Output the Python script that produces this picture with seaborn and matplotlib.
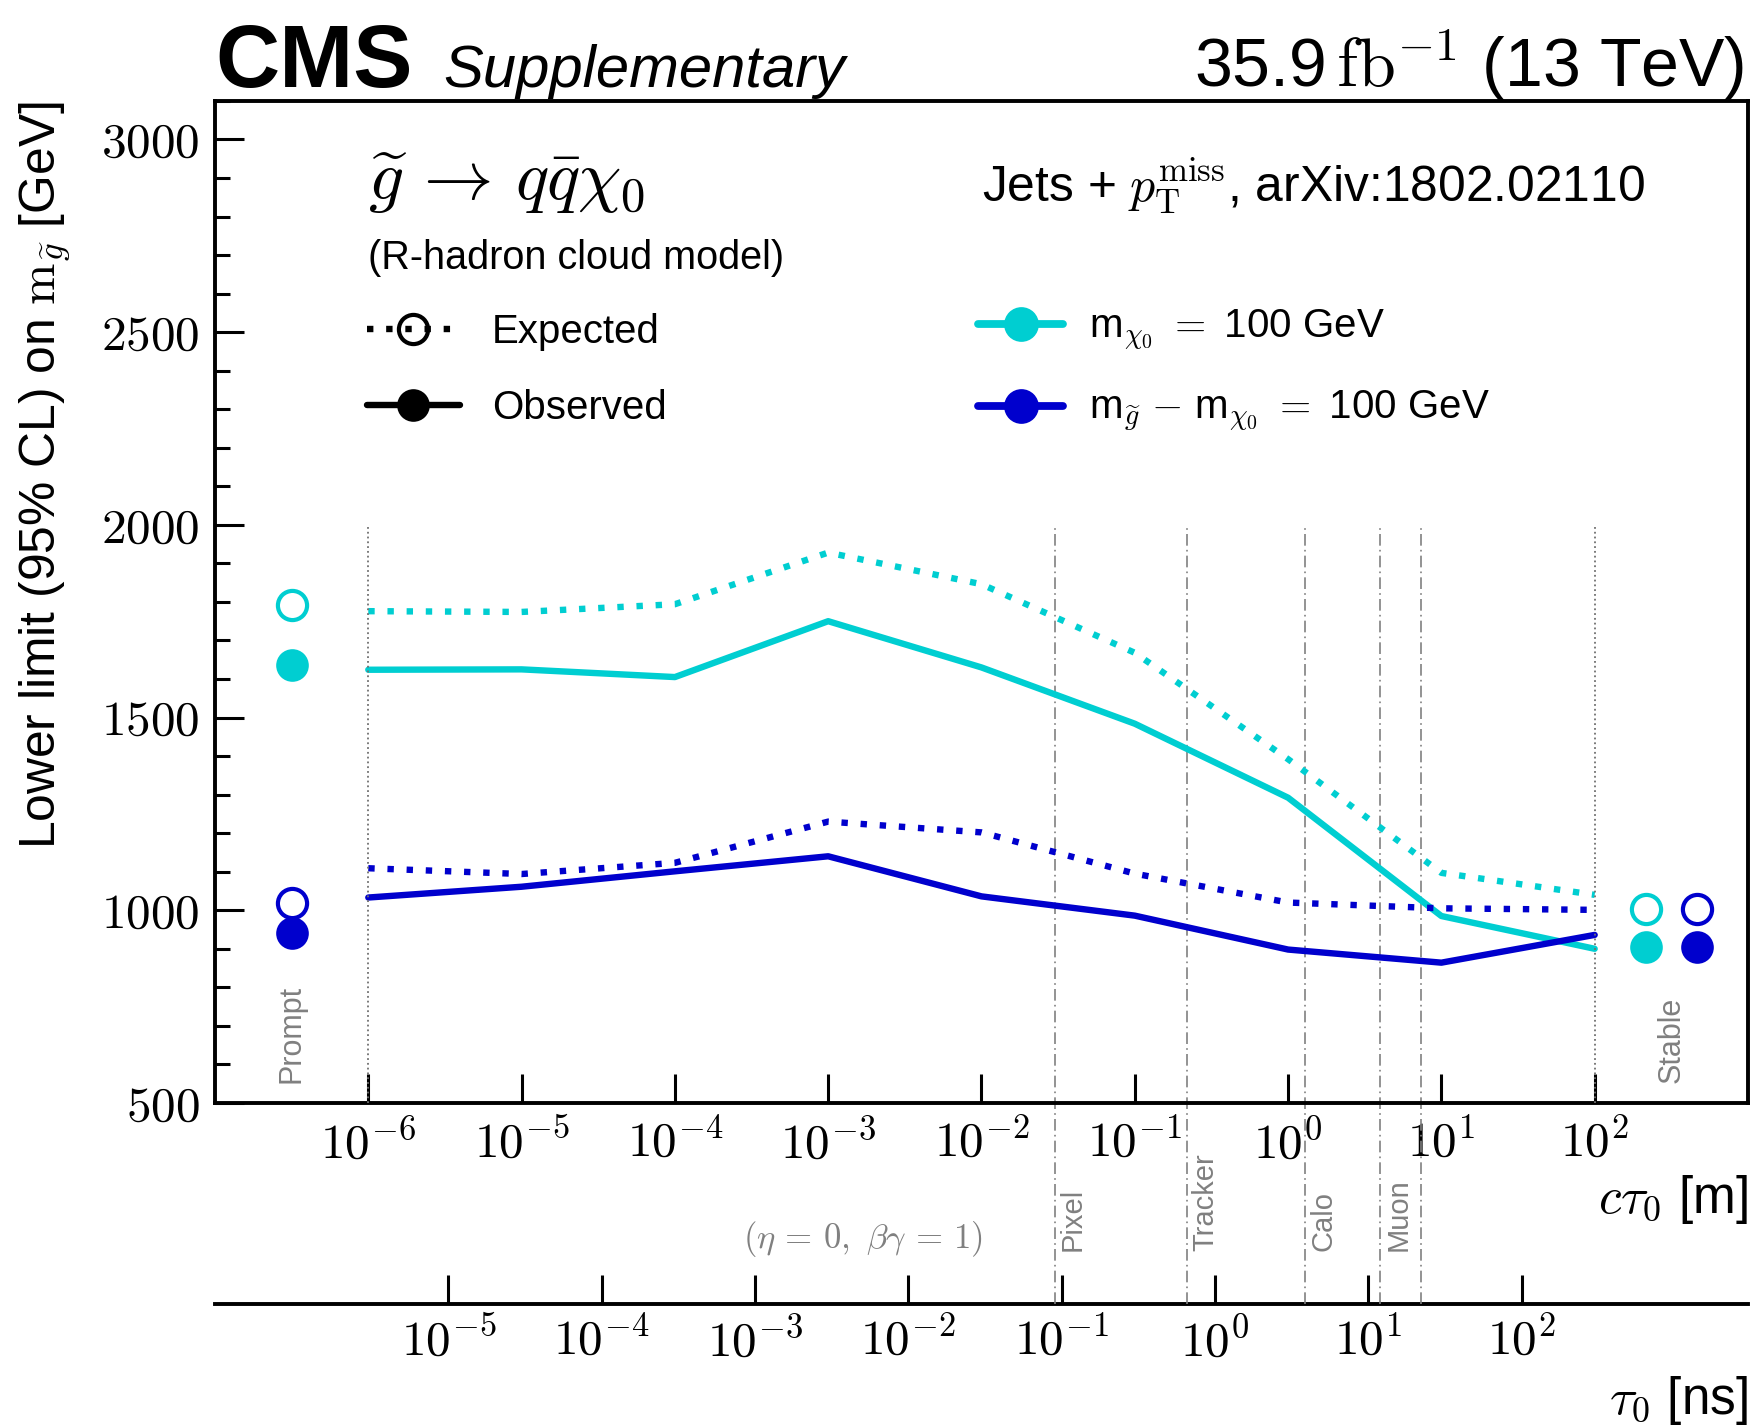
import numpy as np
import pandas as pd
import matplotlib
matplotlib.use("Agg")
import matplotlib.pyplot as plt
from matplotlib.lines import Line2D
from matplotlib import ticker, transforms
import seaborn as sns

# ---------------- data ----------------
ctau_m = [1e-6, 1e-5, 1e-4, 1e-3, 1e-2, 1e-1, 1e0, 1e1, 1e2]
mchi100_obs = [1624, 1625, 1605, 1750, 1630, 1484, 1292, 985, 900]
mchi100_exp = [1776, 1774, 1794, 1928, 1846, 1668, 1392, 1097, 1040]
dm100_obs = [1033, 1061, 1101, 1140, 1036, 986, 898, 864, 936]
dm100_exp = [1109, 1094, 1123, 1230, 1202, 1095, 1020, 1005, 1001]

models = ["mchi100", "dm100"]
prompt_ctau = [10 ** -6.5, 10 ** -6.5]
prompt_obs = [1637, 940]
prompt_exp = [1792, 1018]
stable_ctau = [10 ** (7 / 3), 10 ** (8 / 3)]
stable_obs = [905, 905]
stable_exp = [1003, 1003]

region_edges = [1e-6, 1e2]
detector_lines = [0.03, 0.22, 1.29, 4.0, 7.4]
detector_names = ["Pixel", "Tracker", "Calo", "Muon"]
detector_label_ctau = [0.03, 0.22, 1.29, 4.0]

ctau_ticks = [1e-6, 1e-5, 1e-4, 1e-3, 1e-2, 1e-1, 1e0, 1e1, 1e2]
tau_ticks = [1e-5, 1e-4, 1e-3, 1e-2, 1e-1, 1e0, 1e1, 1e2]

colors = {"mchi100": "#00CED1", "dm100": "#0000CD"}
labels = {"mchi100": r"m$_{\chi_0}$ $=$ 100 GeV",
          "dm100": r"m$_{\widetilde{g}}$ $-$ m$_{\chi_0}$ $=$ 100 GeV"}

df = pd.concat([
    pd.DataFrame({"ctau": ctau_m, "limit": mchi100_obs, "model": "mchi100", "kind": "Observed"}),
    pd.DataFrame({"ctau": ctau_m, "limit": mchi100_exp, "model": "mchi100", "kind": "Expected"}),
    pd.DataFrame({"ctau": ctau_m, "limit": dm100_obs, "model": "dm100", "kind": "Observed"}),
    pd.DataFrame({"ctau": ctau_m, "limit": dm100_exp, "model": "dm100", "kind": "Expected"}),
], ignore_index=True)

# ---------------- style ----------------
sns.set_style("ticks")
plt.rcParams.update({
    "font.family": ["Liberation Sans", "DejaVu Sans"],
    "mathtext.fontset": "cm",
    "axes.linewidth": 2.8,
    "axes.edgecolor": "black",
    "axes.labelcolor": "black",
    "text.color": "black",
    "xtick.color": "black",
    "ytick.color": "black",
})

LW = 4.6
DOT = (1.0, 2.0)
GRAY = "#808080"

fig = plt.figure(figsize=(17.55, 14.25), dpi=100)
ax = fig.add_axes([0.1225, 0.2260, 0.8735, 0.7032])

sns.lineplot(data=df, x="ctau", y="limit", hue="model", style="kind",
             palette=colors, dashes={"Observed": "", "Expected": DOT},
             linewidth=LW, legend=False, errorbar=None, ax=ax, zorder=3)

# prompt and stable points
for xs, obs, exp in [(prompt_ctau, prompt_obs, prompt_exp), (stable_ctau, stable_obs, stable_exp)]:
    for m, x, yo, ye in zip(models, xs, obs, exp):
        ax.plot([x], [ye], "o", mfc="white", mec=colors[m], mew=3.0, ms=21, zorder=4, clip_on=False)
        ax.plot([x], [yo], "o", mfc=colors[m], mec=colors[m], mew=0, ms=23.5, zorder=4, clip_on=False)

ax.set_xscale("log")
ax.set_xlim(1e-7, 1e3)
ax.set_ylim(500, 3100)
y0, y1 = ax.get_ylim()

# region boundaries (prompt / stable)
ax.vlines(region_edges, y0, 2000, colors="#707070", linestyles=":", linewidth=1.3, zorder=5)

# detector boundaries, extending down to the tau axis
TAU_AXIS_POS = -0.2005
ax.vlines(detector_lines, y0 + TAU_AXIS_POS * (y1 - y0), 2000, colors=GRAY,
          linestyles=[(0, (7, 2.5, 1, 2.5))], linewidth=1.2, zorder=1, clip_on=False)

xtrans = ax.get_xaxis_transform()
lab_trans = transforms.offset_copy(xtrans, fig=fig, x=18, y=0, units="dots")
for name, x in zip(detector_names, detector_label_ctau):
    ax.text(x, -0.148, name, transform=lab_trans, rotation=90, ha="center", va="bottom",
            fontsize=21, color=GRAY)

ax.text(prompt_ctau[0], 0.0195, "Prompt", transform=xtrans, rotation=90, ha="center",
        va="bottom", fontsize=22, color=GRAY)
ax.text(np.sqrt(stable_ctau[0] * stable_ctau[1]), 0.0195, "Stable", transform=xtrans,
        rotation=90, ha="center", va="bottom", fontsize=22, color=GRAY)
ax.text(0.4227, -0.1357, r"$(\eta\,=\,0,\ \beta\gamma\,=\,1)$", transform=ax.transAxes,
        ha="center", va="center", fontsize=25, color=GRAY)

# ---------------- axes ----------------
pow_fmt = ticker.FuncFormatter(lambda v, p: rf"$10^{{{int(np.round(np.log10(v)))}}}$")
ax.set_xticks(ctau_ticks)
ax.xaxis.set_major_formatter(pow_fmt)
ax.xaxis.set_minor_locator(ticker.NullLocator())
ax.yaxis.set_major_locator(ticker.MultipleLocator(500))
ax.yaxis.set_minor_locator(ticker.MultipleLocator(100))
ax.yaxis.set_major_formatter(ticker.FuncFormatter(lambda v, p: rf"${v:.0f}$"))
ax.tick_params(which="major", direction="in", length=21, width=2.2, labelsize=35.5, pad=11)
ax.tick_params(which="minor", direction="in", length=10.5, width=2.2)
ax.tick_params(which="both", top=False, right=False)

ax.set_xlabel(r"$c\tau_0$ [m]", loc="right", fontsize=37)
ax.xaxis.set_label_coords(1.0, -0.096)
ax.xaxis.label.set_va("center")
ax.set_ylabel(r"Lower limit (95% CL) on $\mathrm{m}_{\widetilde{g}}$ [GeV]", loc="top", fontsize=35.8)
ax.yaxis.set_label_coords(-0.111, 1.0)
ax.yaxis.label.set_va("center")

secax = ax.secondary_xaxis(TAU_AXIS_POS, functions=(lambda x: 3.0 * x, lambda x: x / 3.0))
secax.set_xticks(tau_ticks)
secax.xaxis.set_major_formatter(pow_fmt)
secax.xaxis.set_minor_locator(ticker.NullLocator())
secax.tick_params(which="major", direction="in", length=21, width=2.2, labelsize=35.5, pad=9)
secax.spines["bottom"].set_linewidth(2.8)
secax.set_xlabel(r"$\tau_0$ [ns]", loc="right", fontsize=37)
secax.xaxis.set_label_coords(1.0, -0.297, transform=ax.transAxes)
secax.xaxis.label.set_va("center")

# ---------------- texts ----------------
ax.text(0.0, 1.0143, "CMS", transform=ax.transAxes, fontsize=64, fontweight="bold", va="baseline")
ax.text(0.1487, 1.0143, "Supplementary", transform=ax.transAxes, fontsize=43, style="italic", va="baseline")
ax.text(0.9974, 1.0135, r"35.9$\,\mathrm{fb}^{-1}$ (13 TeV)", transform=ax.transAxes,
        fontsize=49, ha="right", va="baseline")
ax.text(0.0998, 0.901, r"$\widetilde{g}\,\rightarrow\,q\bar{q}\chi_0$", transform=ax.transAxes,
        fontsize=50, va="baseline")
ax.text(0.0998, 0.8434, "(R-hadron cloud model)", transform=ax.transAxes, fontsize=28.5, va="center")
ax.text(0.5003, 0.8993, r"Jets + $p_\mathrm{T}^\mathrm{miss}$, arXiv:1802.02110",
        transform=ax.transAxes, fontsize=35.8, va="baseline")

# ---------------- legends ----------------
kind_handles = [
    Line2D([], [], color="black", lw=LW, dashes=DOT, marker="o", mfc="none", mec="black", mew=3.0, ms=21),
    Line2D([], [], color="black", lw=LW, marker="o", mfc="black", mec="black", mew=0, ms=23.5),
]
leg1 = ax.legend(kind_handles, ["Expected", "Observed"], loc="upper left",
                 bbox_to_anchor=(0.0992, 0.788), frameon=False, fontsize=29,
                 handlelength=2.3, handletextpad=0.8, labelspacing=0.93,
                 borderpad=0, borderaxespad=0)
ax.add_artist(leg1)
model_handles = [Line2D([], [], color=colors[m], lw=LW + 1, marker="o", mfc=colors[m], mec=colors[m],
                        mew=0, ms=25) for m in models]
ax.legend(model_handles, [labels[m] for m in models], loc="upper left",
          bbox_to_anchor=(0.498, 0.7936), frameon=False, fontsize=29,
          handlelength=2.1, handletextpad=0.65, labelspacing=0.9,
          borderpad=0, borderaxespad=0)

fig.savefig("out.png", dpi=100)
